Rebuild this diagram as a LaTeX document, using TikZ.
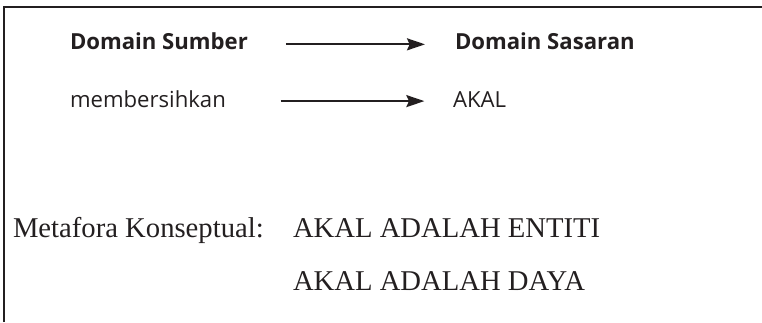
\documentclass[tikz,border=0pt]{standalone}
\usepackage{fontspec}
\setmainfont{Liberation Serif}
\newfontfamily\mapsans{Open Sans}
\usetikzlibrary{arrows.meta}
\definecolor{inkblack}{RGB}{35,31,32}

\begin{document}
\begin{tikzpicture}[x=0.75pt, y=-0.75pt, inner sep=0pt, outer sep=0pt,
  sanslabel/.style={inkblack, anchor=base west, font=\mapsans\fontsize{16.6pt}{20pt}\selectfont},
  seriflabel/.style={inkblack, anchor=base west, font=\fontsize{21.5pt}{26pt}\selectfont},
  maparrow/.style={inkblack, line width=1.5pt, -{Stealth[length=13.5pt, width=9pt, inset=2pt]}}]
  \useasboundingbox (0,0) rectangle (762,322);
  \draw[inkblack, line width=1.2pt] (4,322) -- (4,7) -- (762,7);
  % source and target domains
  \node[sanslabel] (sumber) at (70,49) {\bfseries Domain Sumber};
  \node[sanslabel] (sasaran) at (455,49) {\bfseries Domain Sasaran};
  \node[sanslabel] (bersih) at (70,107.5) {membersihkan};
  \node[sanslabel] (akal) at (453,107.5) {AKAL};
  \draw[maparrow, shorten <=28.5pt, shorten >=22.5pt] ([yshift=3.5pt]sumber.base east) -- ([yshift=3.5pt]sasaran.base west);
  \draw[maparrow, shorten <=41pt, shorten >=21.5pt] ([yshift=4.8pt]bersih.base east) -- ([yshift=4.8pt]akal.base west);
  % conceptual metaphor
  \node[seriflabel] (metafora) at (13,237) {Metafora Konseptual:};
  \node[seriflabel] (entiti) at (293,237) {AKAL ADALAH ENTITI};
  \node[seriflabel] (daya) at (293,290) {AKAL ADALAH DAYA};
\end{tikzpicture}
\end{document}
